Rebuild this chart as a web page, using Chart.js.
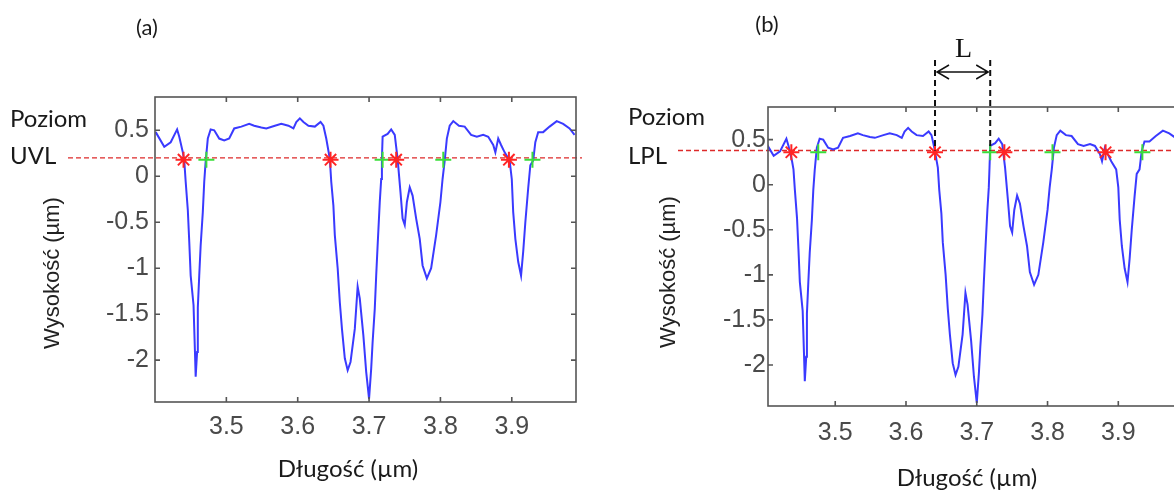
<!DOCTYPE html>
<html>
<head>
<meta charset="utf-8">
<script src="https://cdn.jsdelivr.net/npm/chart.js@4.4.1/dist/chart.umd.min.js"></script>
<style>
  html, body { margin: 0; padding: 0; background: #fff; overflow: hidden; }
  #wrap { position: relative; width: 1174px; height: 490px; overflow: hidden; }
  #chartA { position: absolute; left: 0; top: 0; }
  #chartB { position: absolute; left: 600px; top: 0; }
</style>
</head>
<body>
<div id="wrap">
  <canvas id="chartA" width="590" height="490"></canvas>
  <canvas id="chartB" width="600" height="490"></canvas>
</div>
<script>
// Surface profile (length and height in µm)
const profileX = [
  3.401, 3.413, 3.422, 3.431, 3.434, 3.439, 3.441, 3.443, 3.446, 3.448,
  3.450, 3.454, 3.456, 3.457, 3.459, 3.460, 3.462, 3.464, 3.467, 3.469,
  3.471, 3.474, 3.478, 3.483, 3.490, 3.497, 3.504, 3.511, 3.521, 3.532,
  3.539, 3.549, 3.556, 3.568, 3.577, 3.587, 3.594, 3.598, 3.603, 3.608,
  3.615, 3.624, 3.632, 3.636, 3.640, 3.645, 3.647, 3.650, 3.652, 3.656,
  3.659, 3.662, 3.666, 3.670, 3.674, 3.680, 3.684, 3.687, 3.692, 3.696,
  3.700, 3.703, 3.705, 3.708, 3.710, 3.712, 3.715, 3.717, 3.718, 3.719,
  3.726, 3.731, 3.736, 3.740, 3.744, 3.747, 3.750, 3.753, 3.757, 3.761,
  3.766, 3.771, 3.775, 3.781, 3.787, 3.794, 3.800, 3.803, 3.806, 3.809,
  3.813, 3.818, 3.826, 3.834, 3.843, 3.851, 3.860, 3.867, 3.874, 3.877,
  3.881, 3.885, 3.890, 3.897, 3.900, 3.902, 3.905, 3.909, 3.913, 3.916,
  3.919, 3.923, 3.926, 3.930, 3.933, 3.937, 3.944, 3.953, 3.963, 3.972,
  3.981, 3.988
];
const profileY = [
  0.48, 0.32, 0.37, 0.51, 0.43, 0.26, 0.17, -0.06, -0.37, -0.71,
  -1.08, -1.40, -1.91, -2.18, -1.91, -1.43, -1.08, -0.75, -0.39, -0.06,
  0.16, 0.41, 0.51, 0.50, 0.41, 0.39, 0.41, 0.52, 0.54, 0.57,
  0.55, 0.53, 0.52, 0.55, 0.57, 0.55, 0.52, 0.59, 0.63, 0.59,
  0.55, 0.54, 0.59, 0.55, 0.41, 0.19, -0.06, -0.32, -0.64, -1.00,
  -1.37, -1.66, -1.98, -2.11, -2.02, -1.66, -1.20, -1.33, -1.73, -2.13,
  -2.42, -2.09, -1.80, -1.44, -1.08, -0.75, -0.28, -0.03, 0.19, 0.43,
  0.46, 0.51, 0.45, 0.19, -0.17, -0.46, -0.53, -0.28, -0.12, -0.21,
  -0.46, -0.68, -0.97, -1.11, -1.00, -0.64, -0.28, -0.03, 0.17, 0.41,
  0.55, 0.60, 0.55, 0.54, 0.45, 0.43, 0.45, 0.43, 0.34, 0.26,
  0.41, 0.34, 0.26, 0.17, -0.03, -0.39, -0.68, -0.93, -1.08, -0.82,
  -0.50, -0.13, 0.12, 0.17, 0.37, 0.48, 0.48, 0.54, 0.60, 0.57,
  0.52, 0.45
];

const xTicks = [3.5, 3.6, 3.7, 3.8, 3.9];
const yTicks = [-2, -1.5, -1, -0.5, 0, 0.5];

// (a) UVL level and its crossings
const uvlLevel = 0.2;
const uvlMarkY = 0.18;
const uvlStarX = [3.440, 3.646, 3.738, 3.896];
const uvlPlusX = [3.472, 3.719, 3.804, 3.929];

// (b) LPL level and its crossings
const lplLevel = 0.38;
const lplMarkY = 0.36;
const lplStarX = [3.438, 3.641, 3.739, 3.882];
const lplPlusX = [3.476, 3.719, 3.807, 3.934];
const widthL = [3.641, 3.719];

const tickFont = { family: 'Liberation Sans', size: 25 };

function pts(xs, ys) {
  return xs.map((v, i) => ({ x: v, y: Array.isArray(ys) ? ys[i] : ys }));
}

function drawFrame(chart) {
  const { ctx, chartArea: a, scales: { x, y } } = chart;
  ctx.save();
  ctx.strokeStyle = '#555';
  ctx.lineWidth = 1.6;
  ctx.strokeRect(a.left, a.top, a.right - a.left, a.bottom - a.top);
  ctx.beginPath();
  x.ticks.forEach(t => {
    const px = x.getPixelForValue(t.value);
    ctx.moveTo(px, a.bottom); ctx.lineTo(px, a.bottom - 5);
    ctx.moveTo(px, a.top); ctx.lineTo(px, a.top + 5);
  });
  y.ticks.forEach(t => {
    const py = y.getPixelForValue(t.value);
    ctx.moveTo(a.left, py); ctx.lineTo(a.left + 5, py);
    ctx.moveTo(a.right, py); ctx.lineTo(a.right - 5, py);
  });
  ctx.stroke();
  ctx.restore();
}

function text(ctx, str, x, y, font, align, color) {
  ctx.font = font;
  ctx.fillStyle = color || '#1a1a1a';
  ctx.textAlign = align || 'left';
  ctx.textBaseline = 'alphabetic';
  ctx.fillText(str, x, y);
}

function yTitle(ctx, cx, cy) {
  ctx.save();
  ctx.translate(cx, cy);
  ctx.rotate(-Math.PI / 2);
  ctx.font = '22px "Liberation Sans"';
  ctx.fillStyle = '#222';
  ctx.textAlign = 'center';
  ctx.textBaseline = 'middle';
  ctx.fillText('Wysokość (µm)', 0, 0);
  ctx.restore();
}

function levelLine(chart, level, x0, x1) {
  const { ctx, scales: { y } } = chart;
  const py = y.getPixelForValue(level);
  ctx.save();
  ctx.strokeStyle = '#dd2a2a';
  ctx.lineWidth = 1.4;
  ctx.setLineDash([5, 3]);
  ctx.beginPath();
  ctx.moveTo(x0, py);
  ctx.lineTo(x1, py);
  ctx.stroke();
  ctx.restore();
}

function makeChart(canvas, s) {
  return new Chart(canvas, {
    type: 'scatter',
    data: {
      datasets: [
        {
          data: pts(profileX, profileY),
          showLine: true,
          borderColor: '#3a3aff',
          borderWidth: 2,
          pointRadius: 0,
          tension: 0,
          order: 3
        },
        {
          data: pts(s.starX, s.markY),
          pointStyle: 'star',
          pointRadius: 8,
          borderColor: '#ff2424',
          backgroundColor: '#ff2424',
          borderWidth: 2,
          order: 1
        },
        {
          data: pts(s.plusX, s.markY),
          pointStyle: 'cross',
          pointRadius: 8,
          borderColor: '#3ade3a',
          borderWidth: 2,
          order: 2
        }
      ]
    },
    options: {
      responsive: false,
      animation: false,
      events: [],
      layout: { padding: { left: 0, top: s.top, right: s.right, bottom: 0 } },
      plugins: { legend: { display: false }, tooltip: { enabled: false } },
      scales: {
        x: {
          type: 'linear',
          min: s.xMin,
          max: s.xMax,
          bounds: 'data',
          afterBuildTicks: sc => { sc.ticks = xTicks.map(v => ({ value: v })); },
          afterFit: sc => { sc.height = s.xH; },
          grid: { display: false, drawTicks: false },
          border: { display: false },
          ticks: { callback: v => String(v), font: tickFont, color: '#4a4a4a', padding: s.xPad, maxRotation: 0, autoSkip: false }
        },
        y: {
          type: 'linear',
          min: -2.455,
          max: 0.862,
          bounds: 'data',
          afterBuildTicks: sc => { sc.ticks = yTicks.map(v => ({ value: v })); },
          afterFit: sc => { sc.width = s.yW; },
          grid: { display: false, drawTicks: false },
          border: { display: false },
          ticks: { callback: v => String(v), font: tickFont, color: '#4a4a4a', padding: s.yPad, autoSkip: false }
        }
      }
    },
    plugins: [{
      id: 'decor',
      beforeDatasetsDraw(chart) { levelLine(chart, s.level, s.lineX0, s.lineX1); },
      afterDraw(chart) {
        drawFrame(chart);
        s.decorate(chart);
      }
    }]
  });
}

// Panel (a)
makeChart(document.getElementById('chartA'), {
  xMin: 3.4, xMax: 3.99, top: 97, right: 14, xH: 88, yW: 155, xPad: 10, yPad: 6,
  level: uvlLevel, markY: uvlMarkY, starX: uvlStarX, plusX: uvlPlusX,
  lineX0: 68, lineX1: 582,
  decorate(chart) {
    const ctx = chart.ctx;
    text(ctx, '(a)', 147, 35, '22px Lato', 'center');
    text(ctx, 'Poziom', 10, 127, '24px Lato');
    text(ctx, 'UVL', 10, 164, '24px Lato');
    text(ctx, 'Długość (µm)', 348, 477, '24px Lato', 'center');
    yTitle(ctx, 53, 273);
  }
});

// Panel (b)
makeChart(document.getElementById('chartB'), {
  xMin: 3.405, xMax: 3.99, top: 107, right: 18, xH: 84, yW: 168, xPad: 12, yPad: 2,
  level: lplLevel, markY: lplMarkY, starX: lplStarX, plusX: lplPlusX,
  lineX0: 78, lineX1: 600,
  decorate(chart) {
    const ctx = chart.ctx;
    const { x, y } = chart.scales;
    text(ctx, '(b)', 167, 32, '22px Lato', 'center');
    text(ctx, 'Poziom', 28, 125, '24px Lato');
    text(ctx, 'LPL', 28, 164, '24px Lato');
    text(ctx, 'Długość (µm)', 367, 486, '24px Lato', 'center');
    yTitle(ctx, 69, 272);

    // width L between two crossings
    const xa = x.getPixelForValue(widthL[0]);
    const xb = x.getPixelForValue(widthL[1]);
    const yl = y.getPixelForValue(lplLevel);
    ctx.save();
    ctx.strokeStyle = '#111';
    ctx.lineWidth = 2;
    ctx.setLineDash([6, 4]);
    ctx.beginPath();
    ctx.moveTo(xa, 60); ctx.lineTo(xa, yl);
    ctx.moveTo(xb, 60); ctx.lineTo(xb, yl);
    ctx.stroke();
    ctx.setLineDash([]);
    ctx.lineWidth = 1.5;
    ctx.beginPath();
    ctx.moveTo(xa + 2, 72); ctx.lineTo(xb - 2, 72);
    ctx.moveTo(xa + 14, 65); ctx.lineTo(xa + 2, 72); ctx.lineTo(xa + 14, 79);
    ctx.moveTo(xb - 14, 65); ctx.lineTo(xb - 2, 72); ctx.lineTo(xb - 14, 79);
    ctx.stroke();
    ctx.restore();
    text(ctx, 'L', (xa + xb) / 2 + 1, 57, '28px "Liberation Serif"', 'center', '#111');
  }
});
</script>
</body>
</html>
